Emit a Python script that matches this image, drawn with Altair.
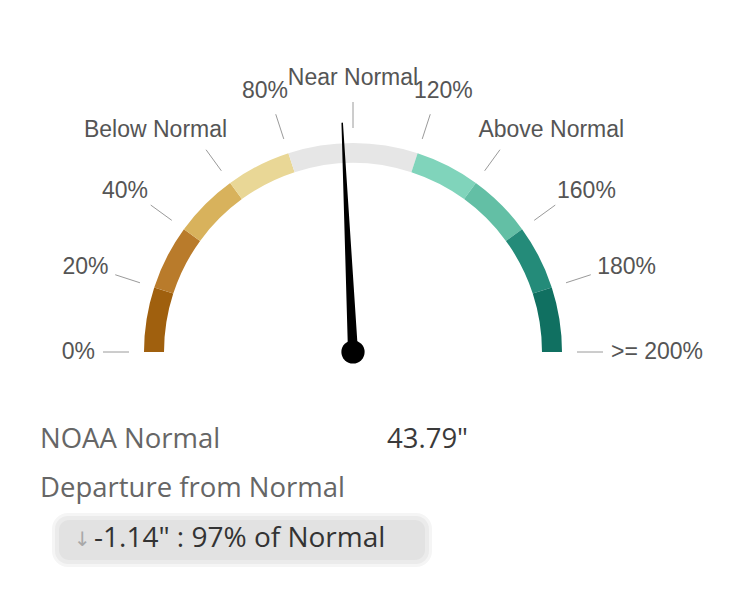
import math
import altair as alt
import pandas as pd

# ---------------- data ----------------
seg_names = ["0-20", "20-40", "40-60", "60-80", "80-120", "120-140", "140-160", "160-180", "180-200"]
seg_start = [0, 20, 40, 60, 80, 120, 140, 160, 180]
seg_end = [20, 40, 60, 80, 120, 140, 160, 180, 200]
seg_colors = ["#A0600E", "#B97B2B", "#D8B25C", "#E9D796", "#E6E6E6",
              "#80D4BB", "#63BFA5", "#248B79", "#107061"]

tick_pct = [0, 20, 40, 60, 80, 100, 120, 140, 160, 180, 200]
tick_labels = ["0%", "20%", "40%", "Below Normal", "80%", "Near Normal",
               "120%", "Above Normal", "160%", "180%", ">= 200%"]

value_pct = 97
normal_label = "NOAA Normal"
normal_value = '43.79"'
departure_label = "Departure from Normal"
departure_text = '-1.14" : 97% of Normal'

# ---------------- layout ----------------
W, H = 739, 574
CX, CY = 345, 344          # gauge centre in chart pixels
R_OUT, R_IN = 209, 189
LEAD_R0, LEAD_R1, LABEL_R = 224, 250, 258
NEEDLE_LEN = 229
FONT_SIZE = 23

xs = alt.Scale(domain=[-CX, W - CX], range=[0, W], nice=False, zero=False)
ys = alt.Scale(domain=[-(H - CY), CY], range=[H, 0], nice=False, zero=False)

ARIAL = {str(d): 556 for d in range(10)}
ARIAL.update({'%': 889, ' ': 278, '>': 584, '=': 584, 'B': 667, 'e': 556, 'l': 222,
              'o': 556, 'w': 722, 'N': 722, 'r': 333, 'm': 833, 'a': 556, 'A': 667,
              'b': 556, 'v': 500})


def text_width(s, size):
    return sum(ARIAL.get(c, 556) for c in s) / 1000 * size


def angle(p):
    return p / 200 * math.pi  # 0 = left, pi = right


# segments
seg_df = pd.DataFrame({"seg": seg_names, "start": seg_start, "end": seg_end,
                       "cx": 0, "cy": 0})

# leader lines and labels
rows = []
for p, lab in zip(tick_pct, tick_labels):
    a = angle(p)
    ux, uy = -math.cos(a), math.sin(a)
    phi = abs(90 - math.degrees(a))
    w = text_width(lab, FONT_SIZE)
    k = (w / 2) * (1 - (1 - phi / 90) ** 2)
    side = 1 if p < 100 else (-1 if p > 100 else 0)
    ax, ay = LABEL_R * ux, LABEL_R * uy
    rows.append({"label": lab,
                 "x0": LEAD_R0 * ux, "y0": LEAD_R0 * uy,
                 "x1": LEAD_R1 * ux, "y1": LEAD_R1 * uy,
                 "tx": ax - side * k, "ty": ay + 16 * math.sin(a)})
lab_df = pd.DataFrame(rows)

# needle
a = angle(value_pct)
needle_df = pd.DataFrame({"r": [0, NEEDLE_LEN], "w": [10, 1.5]})
needle_df["x"] = -math.cos(a) * needle_df["r"]
needle_df["y"] = math.sin(a) * needle_df["r"]

hub_df = pd.DataFrame({"x": [0], "y": [0]})

# ---------------- marks ----------------
arc = alt.Chart(seg_df).mark_arc(radius=R_OUT, radius2=R_IN).encode(
    x=alt.X("cx:Q", scale=xs, axis=None),
    y=alt.Y("cy:Q", scale=ys, axis=None),
    theta=alt.Theta("start:Q", stack=None,
                    scale=alt.Scale(domain=[0, 200], range=[-math.pi / 2, math.pi / 2])),
    theta2="end:Q",
    color=alt.Color("seg:N", scale=alt.Scale(domain=seg_names, range=seg_colors), legend=None),
)

leaders = alt.Chart(lab_df).mark_rule(color="#9A9A9A", strokeWidth=1).encode(
    x=alt.X("x0:Q", scale=xs, axis=None),
    y=alt.Y("y0:Q", scale=ys, axis=None),
    x2="x1:Q", y2="y1:Q",
)

labels = alt.Chart(lab_df).mark_text(
    font="Liberation Sans", fontSize=FONT_SIZE, color="#555555",
    align="center", baseline="middle",
).encode(
    x=alt.X("tx:Q", scale=xs, axis=None),
    y=alt.Y("ty:Q", scale=ys, axis=None),
    text="label:N",
)

needle = alt.Chart(needle_df).mark_trail(color="#000000").encode(
    x=alt.X("x:Q", scale=xs, axis=None),
    y=alt.Y("y:Q", scale=ys, axis=None),
    size=alt.Size("w:Q", scale=None, legend=None),
    order="r:Q",
)

hub = alt.Chart(hub_df).mark_circle(size=540, color="#000000", opacity=1).encode(
    x=alt.X("x:Q", scale=xs, axis=None),
    y=alt.Y("y:Q", scale=ys, axis=None),
)

one = pd.DataFrame({"t": [0]})

t_normal = alt.Chart(pd.DataFrame({"t": [normal_label]})).mark_text(
    font="Open Sans", fontSize=27.5, color="#666666", align="left", baseline="middle"
).encode(x=alt.value(32), y=alt.value(432), text="t:N")

t_value = alt.Chart(pd.DataFrame({"t": [normal_value]})).mark_text(
    font="Open Sans", fontSize=27.5, color="#3A3A3A", align="left", baseline="middle"
).encode(x=alt.value(379), y=alt.value(432), text="t:N")

t_dep = alt.Chart(pd.DataFrame({"t": [departure_label]})).mark_text(
    font="Open Sans", fontSize=27.5, color="#666666", align="left", baseline="middle"
).encode(x=alt.value(32), y=alt.value(481), text="t:N")

pill_glow = alt.Chart(one).mark_rect(cornerRadius=16, color="#F5F5F5").encode(
    x=alt.value(44), x2=alt.value(424), y=alt.value(505), y2=alt.value(559))
pill_mid = alt.Chart(one).mark_rect(cornerRadius=13, color="#EBEBEB").encode(
    x=alt.value(47), x2=alt.value(421), y=alt.value(508), y2=alt.value(556))
pill = alt.Chart(one).mark_rect(cornerRadius=10, color="#E2E2E2").encode(
    x=alt.value(51), x2=alt.value(417), y=alt.value(512), y2=alt.value(552))

t_arrow = alt.Chart(pd.DataFrame({"t": ["↓"]})).mark_text(
    font="DejaVu Sans", fontSize=20, color="#A8A8A8", align="left", baseline="middle"
).encode(x=alt.value(66), y=alt.value(532), text="t:N")

t_departure = alt.Chart(pd.DataFrame({"t": [departure_text]})).mark_text(
    font="Open Sans", fontSize=28, fontWeight=500, color="#333333", align="left", baseline="middle"
).encode(x=alt.value(86), y=alt.value(531), text="t:N")

chart = alt.layer(
    arc, leaders, labels, needle, hub,
    t_normal, t_value, t_dep, pill_glow, pill_mid, pill, t_arrow, t_departure,
).properties(
    width=W, height=H, padding=0, autosize=alt.AutoSizeParams(type="none"),
    background="#FFFFFF",
).configure_view(stroke=None)

chart.save("out.html", embed_options={"renderer": "svg", "actions": False})
